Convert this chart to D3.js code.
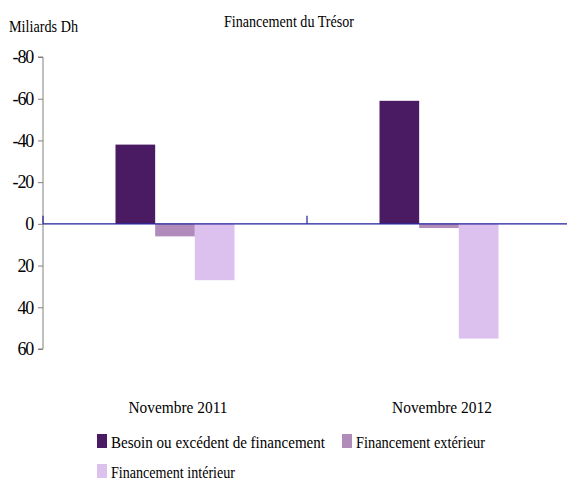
<!DOCTYPE html>
<html>
<head>
<meta charset="utf-8">
<script src="https://cdn.jsdelivr.net/npm/d3@7"></script>
<style>
  body { margin: 0; background: #fff; }
  svg { display: block; }
</style>
</head>
<body>
<svg id="chart" width="567" height="483"></svg>
<script>
// Financement du Trésor, milliards de dirhams
const categories = ["Novembre 2011", "Novembre 2012"];
const seriesNames = ["Besoin ou excédent de financement", "Financement extérieur", "Financement intérieur"];
const besoin = [-38, -59];
const exterieur = [6, 2];
const interieur = [27, 55];
const yTicks = [-80, -60, -40, -20, 0, 20, 40, 60];
const colors = ["#4a1a62", "#b18cbb", "#dcc1ee"];

// Condensed serif look: set size, then squeeze each string to its box width
const FONT = "Liberation Serif, Times New Roman, Times, DejaVu Serif, serif";
const FS = 17.5;
const textWidths = {
  "Financement du Trésor": 130,
  "Miliards Dh": 69,
  "Novembre 2011": 99,
  "Novembre 2012": 100,
  "Besoin ou excédent de financement": 214,
  "Financement extérieur": 129,
  "Financement intérieur": 124
};

const values = [besoin, exterieur, interieur];
const svg = d3.select("#chart");

const x0 = d3.scaleBand().domain(categories).range([43, 571]).paddingInner(0).paddingOuter(0);
const x1 = d3.scaleBand().domain(seriesNames).range([0, 119]);
const y = d3.scaleLinear().domain([-80, 60]).range([57, 349]);

function label(sel, str) {
  sel.attr("font-family", FONT).attr("font-size", FS).attr("fill", "#000").text(str);
  if (textWidths[str]) sel.attr("textLength", textWidths[str]).attr("lengthAdjust", "spacingAndGlyphs");
  return sel;
}

// Title and unit
label(svg.append("text").attr("x", 289).attr("y", 27).attr("text-anchor", "middle"), "Financement du Trésor");
label(svg.append("text").attr("x", 9).attr("y", 32), "Miliards Dh");

// Value axis
const yAxis = svg.append("g").attr("transform", "translate(43,0)")
  .call(d3.axisLeft(y).tickValues(yTicks).tickSize(5).tickPadding(5).tickFormat(d => String(d)));
yAxis.attr("font-family", FONT);
yAxis.select(".domain").attr("stroke", "#808080").attr("d", `M-5,${y(-80)}H0V${y(60)}H-5`);
yAxis.selectAll(".tick line").attr("stroke", "#808080");
yAxis.selectAll(".tick text").attr("font-family", FONT).attr("font-size", 18)
  .attr("letter-spacing", -1.2).attr("fill", "#000");

// Bars
categories.forEach((cat, ci) => {
  const gx = x0(cat) + (x0.bandwidth() - 119) / 2;
  seriesNames.forEach((s, si) => {
    const v = values[si][ci];
    svg.append("rect")
      .attr("x", gx + x1(s))
      .attr("y", y(Math.min(0, v)))
      .attr("width", x1.bandwidth())
      .attr("height", Math.abs(y(v) - y(0)))
      .attr("fill", colors[si]);
  });
});

// Zero line and category separator ticks
svg.append("line").attr("x1", 43).attr("x2", 567).attr("y1", y(0)).attr("y2", y(0))
  .attr("stroke", "#1f1f9a").attr("stroke-width", 1.2);
[43, x0(categories[1])].forEach(tx => {
  svg.append("line").attr("x1", tx).attr("x2", tx).attr("y1", y(0) - 8).attr("y2", y(0))
    .attr("stroke", "#1f1f9a").attr("stroke-width", 1.2);
});

// Category labels
categories.forEach(cat => {
  label(svg.append("text").attr("x", x0(cat) + x0.bandwidth() / 2 + 3).attr("y", 413)
    .attr("text-anchor", "middle"), cat);
});

// Legend
const legendPos = [[97, 448], [342, 448], [97, 478]];
seriesNames.forEach((s, i) => {
  const [lx, ly] = legendPos[i];
  svg.append("rect").attr("x", lx).attr("y", ly - 14).attr("width", 10).attr("height", 14).attr("fill", colors[i]);
  label(svg.append("text").attr("x", lx + 14).attr("y", ly), s);
});
</script>
</body>
</html>
